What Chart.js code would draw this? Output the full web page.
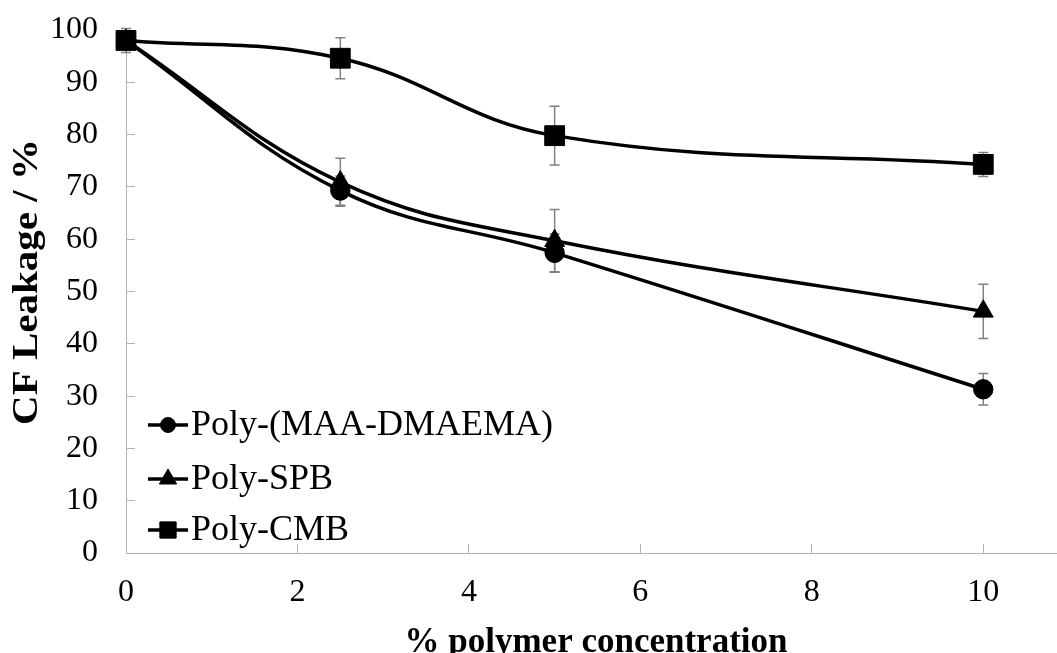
<!DOCTYPE html>
<html>
<head>
<meta charset="utf-8">
<script src="https://cdn.jsdelivr.net/npm/chart.js@4"></script>
<style>
  html, body { margin: 0; padding: 0; background: #fff; }
</style>
</head>
<body>
<canvas id="leakage-chart" width="1057" height="653"></canvas>
<script>
const concentrations = [0, 2.5, 5, 10];

const maaDmaema    = [98.0, 69.3, 57.4, 31.3];
const maaDmaemaErr = [2.3, 2.8, 3.6, 3.0];
const spb          = [98.0, 70.9, 59.7, 46.2];
const spbErr       = [1.5, 4.6, 6.0, 5.2];
const cmb          = [98.0, 94.6, 79.8, 74.3];
const cmbErr       = [1.5, 3.9, 5.6, 2.3];

const seriesNames = ['Poly-(MAA-DMAEMA)', 'Poly-SPB', 'Poly-CMB'];
const xTicks = [0, 2, 4, 6, 8, 10];

const axisGrey = '#b3b3b3';
const serif = '"Liberation Serif", "Times New Roman", serif';

const toPoints = vals => vals.map((v, i) => ({ x: concentrations[i], y: v }));

function series(label, vals, errs, style, radius) {
    return {
        label: label,
        data: toPoints(vals),
        errors: errs,
        borderColor: '#000',
        backgroundColor: '#000',
        borderWidth: 3.5,
        tension: 0.4,
        pointStyle: style,
        pointRadius: radius,
        pointHoverRadius: radius,
        pointBorderWidth: 1,
        clip: false
    };
}

// vertical error bars, drawn under the markers
const errorBars = {
    id: 'errorBars',
    beforeDatasetsDraw(chart) {
        const { ctx } = chart;
        const x = chart.scales.x, y = chart.scales.y;
        ctx.save();
        ctx.strokeStyle = '#808080';
        ctx.lineWidth = 1.5;
        chart.data.datasets.forEach(ds => {
            ds.data.forEach((p, i) => {
                const e = ds.errors[i];
                const px = x.getPixelForValue(p.x);
                const top = y.getPixelForValue(p.y + e);
                const bot = y.getPixelForValue(p.y - e);
                ctx.beginPath();
                ctx.moveTo(px, top); ctx.lineTo(px, bot);
                ctx.moveTo(px - 5, top); ctx.lineTo(px + 5, top);
                ctx.moveTo(px - 5, bot); ctx.lineTo(px + 5, bot);
                ctx.stroke();
            });
        });
        ctx.restore();
    }
};

// legend inside the plot (bottom left) and the axis titles
const overlay = {
    id: 'overlay',
    afterDraw(chart) {
        const { ctx } = chart;
        const rows = [425, 479, 530];
        const legendRadius = [7.5, 10, 11.5];
        ctx.save();
        chart.data.datasets.forEach((ds, i) => {
            const cy = rows[i];
            ctx.strokeStyle = '#000';
            ctx.lineWidth = 3.5;
            ctx.beginPath();
            ctx.moveTo(148, cy); ctx.lineTo(188, cy);
            ctx.stroke();
            ctx.fillStyle = '#000';
            ctx.lineWidth = 1;
            Chart.helpers.drawPoint(ctx, {
                pointStyle: ds.pointStyle,
                radius: legendRadius[i],
                borderWidth: 1,
                rotation: 0
            }, 168, cy);
            ctx.font = '36px ' + serif;
            ctx.textAlign = 'left';
            ctx.textBaseline = 'alphabetic';
            ctx.fillText(ds.label, 191, cy + 10);
        });

        ctx.font = 'bold 35px ' + serif;
        ctx.textAlign = 'center';
        ctx.fillText('% polymer concentration', 596, 652);

        ctx.translate(37, 282);
        ctx.rotate(-Math.PI / 2);
        ctx.scale(1, 0.86);
        ctx.font = 'bold 41px ' + serif;
        ctx.fillText('CF Leakage / %', 0, 0);
        ctx.restore();
    }
};

new Chart(document.getElementById('leakage-chart'), {
    type: 'line',
    data: {
        datasets: [
            series(seriesNames[0], maaDmaema, maaDmaemaErr, 'circle', 9.7),
            series(seriesNames[1], spb, spbErr, 'triangle', 11.5),
            series(seriesNames[2], cmb, cmbErr, 'rect', 14)
        ]
    },
    options: {
        responsive: false,
        animation: false,
        devicePixelRatio: 1,
        layout: { autoPadding: false, padding: { top: 30, right: 0, bottom: 0, left: 0 } },
        plugins: {
            legend: { display: false },
            tooltip: { enabled: false }
        },
        scales: {
            x: {
                type: 'linear',
                min: 0,
                max: 10.86,
                afterBuildTicks: s => { s.ticks = xTicks.map(v => ({ value: v })); },
                afterFit: s => { s.height = 100; s.paddingLeft = 0; s.paddingRight = 0; },
                grid: { drawOnChartArea: false, tickLength: -9, color: axisGrey },
                border: { color: axisGrey, width: 1 },
                ticks: {
                    font: { family: serif, size: 32 },
                    color: '#000',
                    padding: 29,
                    maxRotation: 0,
                    autoSkip: false
                }
            },
            y: {
                min: 0,
                max: 100,
                afterFit: s => { s.width = 126; s.paddingTop = 0; s.paddingBottom = 0; },
                grid: { drawOnChartArea: false, tickLength: -9, color: axisGrey },
                border: { color: axisGrey, width: 1 },
                ticks: {
                    stepSize: 10,
                    font: { family: serif, size: 32 },
                    color: '#000',
                    padding: 37
                }
            }
        }
    },
    plugins: [errorBars, overlay]
});
</script>
</body>
</html>
